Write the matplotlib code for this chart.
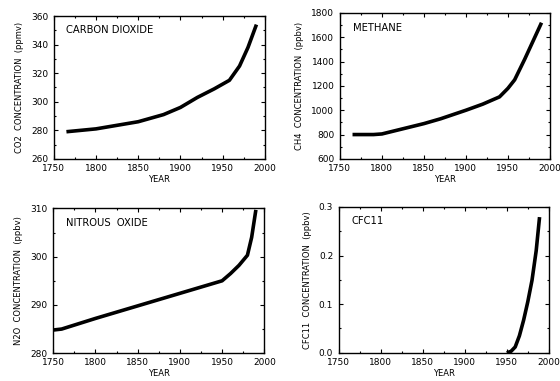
import matplotlib
matplotlib.use("Agg")
import matplotlib.pyplot as plt
from matplotlib.ticker import MultipleLocator, FormatStrFormatter

# CO2 (ppmv)
co2_years = [1765, 1800, 1830, 1850, 1880, 1900, 1920, 1940, 1958, 1970, 1980, 1990]
co2_vals = [279, 281, 284, 286, 291, 296, 303, 309, 315, 325, 338, 354]

# CH4 (ppbv)
ch4_years = [1765, 1790, 1800, 1850, 1870, 1900, 1920, 1940, 1950, 1958, 1970, 1980, 1990]
ch4_vals = [800, 800, 805, 890, 930, 1000, 1050, 1110, 1180, 1250, 1420, 1570, 1720]

# N2O (ppbv)
n2o_years = [1750, 1760, 1800, 1850, 1900, 1950, 1960, 1970, 1980, 1985, 1990]
n2o_vals = [284.8, 285.0, 287.2, 289.8, 292.4, 295.0, 296.5, 298.2, 300.3, 304.0, 309.7]

# CFC11 (ppbv)
cfc_years = [1950, 1955, 1960, 1965, 1970, 1975, 1980, 1985, 1989]
cfc_vals = [0.0, 0.003, 0.012, 0.035, 0.067, 0.105, 0.149, 0.21, 0.279]

panels = [
    dict(x=co2_years, y=co2_vals, title="CARBON DIOXIDE", ylabel="CO2  CONCENTRATION  (ppmv)",
         ylim=(260, 360), ymaj=20, ymin=10, fmt="%d", rect=[0.096, 0.583, 0.377, 0.375]),
    dict(x=ch4_years, y=ch4_vals, title="METHANE", ylabel="CH4  CONCENTRATION  (ppbv)",
         ylim=(600, 1800), ymaj=200, ymin=100, fmt="%d", rect=[0.607, 0.583, 0.375, 0.383]),
    dict(x=n2o_years, y=n2o_vals, title="NITROUS  OXIDE", ylabel="N2O  CONCENTRATION  (ppbv)",
         ylim=(280, 310), ymaj=10, ymin=5, fmt="%d", rect=[0.095, 0.073, 0.377, 0.38]),
    dict(x=cfc_years, y=cfc_vals, title="CFC11", ylabel="CFC11  CONCENTRATION  (ppbv)",
         ylim=(0.0, 0.3), ymaj=0.1, ymin=0.05, fmt="%.1f", rect=[0.605, 0.074, 0.375, 0.383]),
]

fig = plt.figure(figsize=(5.6, 3.81), dpi=100)
plt.rcParams['font.family'] = ['DejaVu Sans']

for p in panels:
    ax = fig.add_axes(p["rect"])
    ax.plot(p["x"], p["y"], color="black", linewidth=2.6, solid_capstyle="butt")
    ax.set_xlim(1750, 2000)
    ax.set_ylim(*p["ylim"])
    ax.xaxis.set_major_locator(MultipleLocator(50))
    ax.xaxis.set_minor_locator(MultipleLocator(25))
    ax.yaxis.set_major_locator(MultipleLocator(p["ymaj"]))
    ax.yaxis.set_minor_locator(MultipleLocator(p["ymin"]))
    ax.yaxis.set_major_formatter(FormatStrFormatter(p["fmt"]))
    ax.tick_params(which="both", direction="in", top=True, right=True,
                   labelsize=6.5, width=0.8)
    ax.tick_params(axis="x", pad=3.5)
    ax.tick_params(axis="y", pad=4)
    ax.tick_params(which="major", length=3)
    ax.tick_params(which="minor", length=1.5)
    for s in ax.spines.values():
        s.set_linewidth(1.0)
    ax.set_xlabel("YEAR", fontsize=6, labelpad=1.5)
    ax.set_ylabel(p["ylabel"], fontsize=6, labelpad=5)
    ax.text(0.06, 0.9, p["title"], transform=ax.transAxes, fontsize=7.2,
            ha="left", va="center")

fig.savefig("out.png", dpi=100)
